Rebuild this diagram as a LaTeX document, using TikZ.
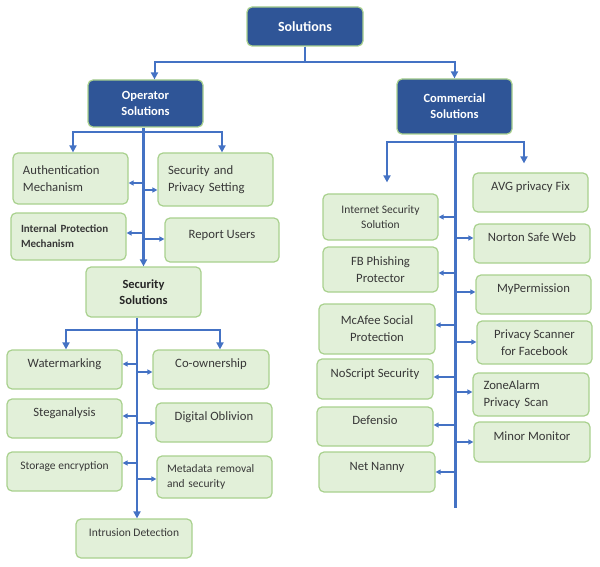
\documentclass[tikz,border=0pt]{standalone}
\usepackage{fontspec}
\setmainfont{Carlito}
\usetikzlibrary{arrows.meta,positioning}

\definecolor{darkblue}{HTML}{2F5597}
\definecolor{boxgreen}{HTML}{E2F0D9}
\definecolor{edgegreen}{HTML}{A9D18E}
\definecolor{linkblue}{HTML}{4472C4}
\definecolor{txtgray}{HTML}{383838}

\tikzset{
  headbox/.style={draw=edgegreen, line width=1.2pt, rounded corners=5pt, fill=darkblue, text=white,
    font=\fontsize{12.5}{16}\selectfont\bfseries, align=center, minimum width=115pt, inner sep=2pt},
  leafbox/.style={draw=edgegreen, line width=1.2pt, rounded corners=5pt, fill=boxgreen, text=txtgray,
    font=\fontsize{12.7}{17}\selectfont, align=center, minimum width=115pt, inner sep=2pt},
  smalltxt/.style={font=\fontsize{11.5}{15}\selectfont},
  smallbold/.style={font=\fontsize{11}{15}\selectfont\bfseries},
  lefttext/.style={align=left, text width=95pt, inner xsep=10pt},
  upper/.style={text height=8pt, text depth=12pt},
  trunk/.style={linkblue, line width=2.2pt},
  branch/.style={linkblue, line width=2pt, -{Triangle[length=7pt,width=7pt]}},
  side/.style={linkblue, line width=1.3pt, -{Triangle[length=5pt,width=5pt]}},
}

\begin{document}
\begin{tikzpicture}[x=1pt,y=-1pt]
  \path[fill=white] (0,0) rectangle (600,567);
  \useasboundingbox (0,0) rectangle (600,567);

  % top level
  \node[headbox, font=\fontsize{14}{16}\selectfont\bfseries, minimum width=116pt, minimum height=39pt] (sol) at (305,26.5) {Solutions};
  \node[headbox, minimum height=47pt] (op) at (145.5,103.5) {Operator\\Solutions};
  \node[headbox, minimum height=55pt] (com) at (454.5,106.5) {Commercial\\Solutions};

  % operator solutions
  \node[leafbox, lefttext, minimum height=51pt] (auth) at (70.5,178.5) {Authentication\\Mechanism};
  \node[leafbox, lefttext, minimum height=53pt] (spset) at (215.5,179.5) {Security and\\Privacy Setting};
  \node[leafbox, lefttext, smallbold, minimum height=47pt] (intp) at (68.5,236.5) {Internal Protection\\Mechanism};
  \node[leafbox, upper, minimum width=114pt, minimum height=44pt] (rep) at (222,240) {Report Users};
  \node[leafbox, font=\fontsize{12.5}{16}\selectfont\bfseries, text=black!85, minimum height=50pt] (secs) at (143.5,292) {Security\\Solutions};

  % security solutions
  \node[leafbox, upper, minimum height=39pt] (wat) at (64.5,369.5) {Watermarking};
  \node[leafbox, upper, minimum width=116pt, minimum height=39pt] (coo) at (211,369.5) {Co-ownership};
  \node[leafbox, upper, minimum height=39pt] (steg) at (64.5,418.5) {Steganalysis};
  \node[leafbox, upper, minimum width=116pt, minimum height=39pt] (dig) at (214,422.5) {Digital Oblivion};
  \node[leafbox, upper, smalltxt, minimum height=39pt] (stor) at (64.5,471.5) {Storage encryption};
  \node[leafbox, lefttext, smalltxt, minimum height=42pt] (meta) at (214.5,477) {Metadata removal\\and security};
  \node[leafbox, upper, smalltxt, minimum width=116pt, minimum height=39pt] (intr) at (134,538.5) {Intrusion Detection};

  % commercial solutions
  \node[leafbox, smalltxt, minimum height=46pt] (inet) at (380.5,217) {Internet Security\\Solution};
  \node[leafbox, upper, minimum height=39pt] (avg) at (530.5,192.5) {AVG privacy Fix};
  \node[leafbox, upper, minimum width=116pt, minimum height=39pt] (nort) at (532,243.5) {Norton Safe Web};
  \node[leafbox, minimum height=45pt] (fb) at (380.5,269.5) {FB Phishing\\Protector};
  \node[leafbox, upper, minimum height=39pt] (myp) at (533.5,294.5) {MyPermission};
  \node[leafbox, minimum width=116pt, minimum height=50pt] (mca) at (377,329) {McAfee Social\\Protection};
  \node[leafbox, minimum height=43pt] (psc) at (534.5,342.5) {Privacy Scanner\\for Facebook};
  \node[leafbox, upper, minimum width=116pt, minimum height=40pt] (nos) at (375,379) {NoScript Security};
  \node[leafbox, lefttext, minimum width=116pt, minimum height=43pt] (zone) at (531,394.5) {ZoneAlarm\\Privacy Scan};
  \node[leafbox, upper, minimum width=116pt, minimum height=39pt] (def) at (375,426.5) {Defensio};
  \node[leafbox, upper, minimum width=116pt, minimum height=40pt] (minm) at (532,442) {Minor Monitor};
  \node[leafbox, upper, minimum width=116pt, minimum height=40pt] (net) at (377,472) {Net Nanny};

  % links from the top
  \draw[branch] (sol.south) -- ++(0,15) -| ([xshift=9pt]op.north);
  \draw[branch] (sol.south) -- ++(0,15) -| (com.north);

  % operator tree
  \draw[trunk, -{Triangle[length=7pt,width=7pt]}] (op.south -| secs.north) -- (secs.north);
  \coordinate (opj) at (143.5,132);
  \draw[branch] (opj) -| ([xshift=2.5pt]auth.north);
  \draw[branch] (opj) -| ([xshift=6.5pt]spset.north);
  \foreach \n/\y in {auth/183, intp/233}
    \draw[side] (secs.north |- 0,\y) -- (\n.east |- 0,\y);
  \foreach \n/\y in {spset/190, rep/239}
    \draw[side] (secs.north |- 0,\y) -- (\n.west |- 0,\y);

  % security tree
  \coordinate (sx) at ([xshift=3pt]intr.north);
  \draw[trunk, -{Triangle[length=7pt,width=7pt]}] (secs.south -| sx) -- (sx);
  \coordinate (ssj) at (137,330);
  \draw[branch] (ssj) -| ([xshift=1.5pt]wat.north);
  \draw[branch] (ssj) -| ([xshift=9pt]coo.north);
  \foreach \n/\y in {wat/364, steg/416, stor/463}
    \draw[side] (sx |- 0,\y) -- (\n.east |- 0,\y);
  \foreach \n/\y in {coo/372, dig/423, meta/479}
    \draw[side] (sx |- 0,\y) -- (\n.west |- 0,\y);

  % commercial tree
  \coordinate (cx) at (455.5,508);
  \draw[trunk] (com.south -| cx) -- (cx);
  \coordinate (cmj) at (455.5,142);
  \draw[branch] (cmj) -| ([xshift=6.5pt,yshift=11pt]inet.north);
  \draw[branch] (cmj) -| ([xshift=-6.5pt,yshift=9pt]avg.north);
  \foreach \n/\y in {inet/217, fb/273, mca/325, nos/377, def/425, net/472}
    \draw[side] (cx |- 0,\y) -- (\n.east |- 0,\y);
  \foreach \n/\y in {nort/238, myp/292, psc/342, zone/392, minm/442}
    \draw[side] (cx |- 0,\y) -- (\n.west |- 0,\y);
\end{tikzpicture}
\end{document}
